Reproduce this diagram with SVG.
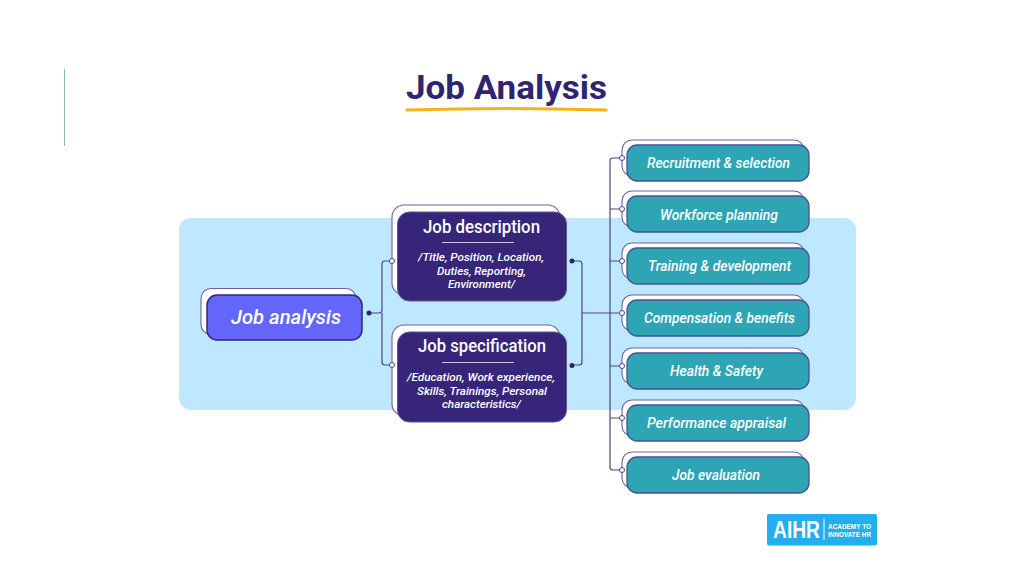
<svg xmlns="http://www.w3.org/2000/svg" width="1024" height="576" viewBox="0 0 1024 576">
<style>
text{font-family:Roboto,"Noto Sans",sans-serif;text-anchor:middle;fill:#fff}
.back{fill:#fff;stroke:#6a629f;stroke-width:1.1}
.teal{fill:#2ea5b5;stroke:#46538f;stroke-width:1.300}
.navy{fill:#37257a;stroke:#5d5598;stroke-width:1}
.tl{font-size:14px;font-style:italic;font-weight:500}
.hd{font-size:17.500px;font-weight:500}
.sub{font-size:11.800px;font-style:italic;font-weight:500}
.ln{fill:none;stroke:#4a4588;stroke-width:1.200}
.o{fill:#fff;stroke:#4a4588;stroke-width:1}
.d{fill:#2a2468}
</style>
<rect width="1024" height="576" fill="#fff"/>
<rect x="64" y="69" width="1" height="77" fill="#8fb3ba"/>
<rect x="179" y="218" width="677" height="192" rx="12" fill="#bee8ff"/>
<g id="title">
<text x="506.500" y="99" style="font-size:34px;font-weight:700;fill:#2f2470" textLength="201" lengthAdjust="spacingAndGlyphs">Job Analysis</text>
<path d="M407 110 Q506 107 606 110" fill="none" stroke="#f7b018" stroke-width="3.200" stroke-linecap="round"/>
</g>
<g id="connectors">
<path class="ln" d="M369 313H379Q382 313 382 310V264Q382 261 385 261H392M382 313V362Q382 365 385 365H392"/>
<path class="ln" d="M572 261H579Q582 261 582 264V362Q582 365 579 365H572M582 313H622"/>
<path class="ln" d="M622 158H613Q610 158 610 161V467Q610 470 613 470H622M610 209H622M610 261H622M610 366H622M610 418H622"/>
</g>
<g id="node-job-analysis">
<rect class="back" x="201" y="288.500" width="155" height="46" rx="10"/>
<rect x="207" y="295" width="155" height="45" rx="10" fill="#6366f8" stroke="#2d2a70" stroke-width="1.500"/>
<text x="286" y="323.500" style="font-size:20px;font-style:italic;font-weight:500" textLength="110" lengthAdjust="spacingAndGlyphs">Job analysis</text>
</g>
<g id="node-job-description">
<rect class="back" x="392" y="205" width="168" height="90" rx="12"/>
<rect class="navy" x="397.500" y="212" width="169" height="89" rx="12"/>
<text class="hd" x="481.500" y="232.500" textLength="117" lengthAdjust="spacingAndGlyphs">Job description</text>
<rect x="442" y="242" width="72" height="1" fill="#c9c4e6"/>
<text class="sub" x="481" y="261" textLength="126" lengthAdjust="spacingAndGlyphs">/Title, Position, Location,</text>
<text class="sub" x="481.500" y="274.500" textLength="89" lengthAdjust="spacingAndGlyphs">Duties, Reporting,</text>
<text class="sub" x="481.500" y="288" textLength="67" lengthAdjust="spacingAndGlyphs">Environment/</text>
</g>
<g id="node-job-specification">
<rect class="back" x="392" y="325" width="168" height="91" rx="12"/>
<rect class="navy" x="397.500" y="332" width="169" height="90" rx="12"/>
<text class="hd" x="482" y="351.500" textLength="128" lengthAdjust="spacingAndGlyphs">Job specification</text>
<rect x="442" y="362" width="72" height="1" fill="#c9c4e6"/>
<text class="sub" x="481" y="381" textLength="148" lengthAdjust="spacingAndGlyphs">/Education, Work experience,</text>
<text class="sub" x="482" y="394.500" textLength="130" lengthAdjust="spacingAndGlyphs">Skills, Trainings, Personal</text>
<text class="sub" x="481.500" y="408" textLength="79" lengthAdjust="spacingAndGlyphs">characteristics/</text>
</g>
<g id="node-recruitment"><rect class="back" x="622" y="140" width="182" height="36" rx="10"/><rect class="teal" x="627" y="145" width="182" height="36" rx="10"/><text class="tl" x="718.500" y="167.500" textLength="143" lengthAdjust="spacingAndGlyphs">Recruitment &amp; selection</text></g>
<g id="node-workforce"><rect class="back" x="622" y="191" width="182" height="36" rx="10"/><rect class="teal" x="627" y="196" width="182" height="36" rx="10"/><text class="tl" x="719" y="219.500" textLength="118" lengthAdjust="spacingAndGlyphs">Workforce planning</text></g>
<g id="node-training"><rect class="back" x="622" y="243" width="182" height="36" rx="10"/><rect class="teal" x="627" y="248" width="182" height="36" rx="10"/><text class="tl" x="719.500" y="271" textLength="143" lengthAdjust="spacingAndGlyphs">Training &amp; development</text></g>
<g id="node-compensation"><rect class="back" x="622" y="295" width="182" height="36" rx="10"/><rect class="teal" x="627" y="300" width="182" height="36" rx="10"/><text class="tl" x="719.500" y="323" textLength="151" lengthAdjust="spacingAndGlyphs">Compensation &amp; benefits</text></g>
<g id="node-health"><rect class="back" x="622" y="348" width="182" height="36" rx="10"/><rect class="teal" x="627" y="353" width="182" height="36" rx="10"/><text class="tl" x="716.500" y="376" textLength="93" lengthAdjust="spacingAndGlyphs">Health &amp; Safety</text></g>
<g id="node-performance"><rect class="back" x="622" y="400" width="182" height="36" rx="10"/><rect class="teal" x="627" y="405" width="182" height="36" rx="10"/><text class="tl" x="716.500" y="428" textLength="139" lengthAdjust="spacingAndGlyphs">Performance appraisal</text></g>
<g id="node-evaluation"><rect class="back" x="622" y="452" width="182" height="36" rx="10"/><rect class="teal" x="627" y="457" width="182" height="36" rx="10"/><text class="tl" x="716" y="480" textLength="88" lengthAdjust="spacingAndGlyphs">Job evaluation</text></g>
<g id="ports">
<circle class="d" cx="369" cy="313" r="2.500"/><circle class="d" cx="572" cy="261" r="2.500"/><circle class="d" cx="572" cy="365.500" r="2.500"/>
<circle class="o" cx="392" cy="261" r="2.500"/><circle class="o" cx="392" cy="365" r="2.500"/>
<circle class="o" cx="622" cy="158" r="2.500"/><circle class="o" cx="622" cy="209" r="2.500"/><circle class="o" cx="622" cy="261" r="2.500"/><circle class="o" cx="622" cy="313" r="2.500"/><circle class="o" cx="622" cy="366" r="2.500"/><circle class="o" cx="622" cy="418" r="2.500"/><circle class="o" cx="622" cy="470" r="2.500"/>
</g>
<g id="logo">
<rect x="767" y="514" width="110" height="31.500" rx="2" fill="#22aeef"/>
<text x="796.500" y="538" style="font-family:'Liberation Sans',sans-serif;font-size:23px;font-weight:700" textLength="47" lengthAdjust="spacingAndGlyphs">AIHR</text>
<rect x="823.500" y="519" width="1" height="21" fill="#fff"/>
<text x="849.500" y="528.500" style="font-family:'Liberation Sans',sans-serif;font-size:6.300px;font-weight:700" textLength="43" lengthAdjust="spacingAndGlyphs">ACADEMY TO</text>
<text x="849.500" y="536.500" style="font-family:'Liberation Sans',sans-serif;font-size:6.300px;font-weight:700" textLength="43" lengthAdjust="spacingAndGlyphs">INNOVATE HR</text>
</g>
</svg>
